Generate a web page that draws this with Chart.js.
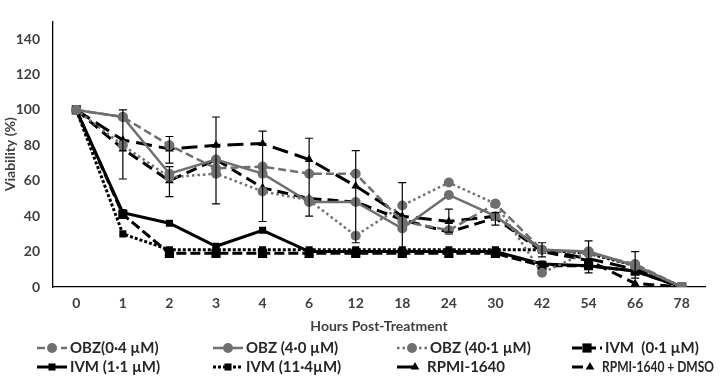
<!DOCTYPE html>
<html>
<head>
<meta charset="utf-8">
<script src="https://cdn.jsdelivr.net/npm/chart.js@4.4.1/dist/chart.umd.min.js"></script>
<style>
html, body { margin: 0; padding: 0; background: #fff; }
#wrap { width: 725px; height: 377px; }
</style>
</head>
<body>
<div id="wrap"><canvas id="mychart"></canvas></div>
<script>
// x categories (hours post-treatment)
var hours = ['0', '1', '2', '3', '4', '6', '12', '18', '24', '30', '42', '54', '66', '78'];

// viability (%) per series
var obz04  = [100, 96, 80, 67, 68, 64, 64, 37, 32, 47, 21, 19, 13, 0];
var obz40  = [100, 96, 64, 72, 64, 48, 48, 33, 52, 40, 21, 20, 12, 0];
var obz401 = [100, 80, 62, 64, 54, 49, 29, 46, 59, 47, 8, 20, 12, 0];
var ivm01  = [100, 41, 19, 19, 19, 19, 19, 19, 19, 19, 12, 12, 9, 0];
var ivm11  = [100, 42, 36, 23, 32, 20, 20, 20, 20, 20, 13, 12, 9, 0];
var ivm114 = [100, 30, 21, 21, 21, 21, 21, 21, 21, 21, 21, 19, 12, 0];
var rpmi   = [100, 83, 78, 80, 81, 72, 57, 40, 37, 40, 21, 16, 10, 0];
var dmso   = [100, 78, 60, 72, 56, 50, 48, 38, 31, 39, 20, 15, 2, 0];

// error bars: category index, low, high
var errCat  = [1, 2, 2, 3, 4, 5, 6, 7, 8, 9, 10, 11, 12];
var errLow  = [61, 70, 51, 47, 37, 40, 25, 20, 31, 35, 17, 8, 5];
var errHigh = [100, 85, 68, 96, 88, 84, 77, 59, 44, 42, 25, 26, 20];

var yTicks = [0, 20, 40, 60, 80, 100, 120, 140];

var GRAY = '#6f6f6f';
var BLACK = '#000000';
var TXT = '#404040';
var FONT = 'Lato, "Open Sans", sans-serif';

Chart.defaults.font.family = FONT;
Chart.defaults.font.weight = 'bold';
Chart.defaults.color = TXT;

function mk(label, data, color, dash, style, radius, width) {
  return {
    label: label,
    data: data,
    borderColor: color,
    backgroundColor: color,
    borderDash: dash,
    borderWidth: width,
    pointStyle: style,
    pointRadius: radius,
    pointBorderWidth: 0,
    pointBackgroundColor: color,
    tension: 0,
    fill: false
  };
}

const datasets = [
  mk('OBZ(0·4 µM)', obz04, GRAY, [8, 4], 'circle', 5, 2.5),
  mk('OBZ (4·0 µM)', obz40, GRAY, [], 'circle', 5, 2.5),
  mk('OBZ (40·1 µM)', obz401, GRAY, [2.5, 3], 'circle', 5, 2.5),
  mk('IVM  (0·1 µM)', ivm01, BLACK, [10, 4], 'rect', 6.5, 3),
  mk('IVM (1·1 µM)', ivm11, BLACK, [], 'rect', 5, 3),
  mk('IVM (11·4µM)', ivm114, BLACK, [3, 2], 'rect', 5, 3),
  mk('RPMI-1640', rpmi, BLACK, [16, 7], 'triangle', 5, 3),
  mk('RPMI-1640 + DMSO', dmso, BLACK, [11, 6], 'triangle', 5, 3)
];

// error bars drawn through the scales
const errorBars = {
  id: 'errorBars',
  afterDatasetsDraw(chart) {
    const ctx = chart.ctx;
    const xs = chart.scales.x, ys = chart.scales.y;
    ctx.save();
    ctx.strokeStyle = '#000';
    ctx.lineWidth = 1.2;
    for (var i = 0; i < errCat.length; i++) {
      var x = xs.getPixelForValue(errCat[i]);
      var y1 = ys.getPixelForValue(errLow[i]);
      var y2 = ys.getPixelForValue(errHigh[i]);
      ctx.beginPath();
      ctx.moveTo(x, y1); ctx.lineTo(x, y2);
      ctx.moveTo(x - 4, y1); ctx.lineTo(x + 4, y1);
      ctx.moveTo(x - 4, y2); ctx.lineTo(x + 4, y2);
      ctx.stroke();
    }
    ctx.restore();
  }
};

// 4-column legend under the axis title
const gridLegend = {
  id: 'gridLegend',
  afterDraw(chart) {
    const ctx = chart.ctx;
    const colX = [37, 213, 397, 572];
    const rowY = [348, 367];
    ctx.save();
    chart.data.datasets.forEach(function (ds, i) {
      var x = colX[i % 4];
      var y = rowY[Math.floor(i / 4)];
      var tri = ds.pointStyle === 'triangle';
      var len = tri ? 20 : 30;
      ctx.strokeStyle = ds.borderColor;
      ctx.lineWidth = ds.borderWidth;
      ctx.setLineDash(ds.borderDash);
      ctx.beginPath();
      ctx.moveTo(x, y); ctx.lineTo(x + len, y);
      ctx.stroke();
      ctx.setLineDash([]);
      ctx.fillStyle = ds.borderColor;
      var px = tri ? x + len - 2 : x + len / 2;
      Chart.helpers.drawPoint(ctx, { pointStyle: ds.pointStyle, radius: ds.pointRadius, rotation: 0, borderWidth: 0 }, px, y);
      ctx.fillStyle = '#262626';
      ctx.font = 'bold 15px ' + FONT;
      ctx.textBaseline = 'middle';
      ctx.fillText(ds.label, x + len + (tri ? 10 : 3), y, 112);
    });
    ctx.restore();
  }
};

const config = {
  type: 'line',
  data: { labels: hours, datasets: datasets },
  plugins: [errorBars, gridLegend],
  options: {
    responsive: true,
    maintainAspectRatio: false,
    animation: false,
    layout: { padding: { left: 0, right: 20, top: 2, bottom: 38 } },
    plugins: { legend: { display: false }, tooltip: { enabled: false } },
    scales: {
      x: {
        offset: true,
        grid: { display: false, drawTicks: false },
        border: { display: true, color: '#000', width: 1.3 },
        ticks: { color: TXT, padding: 8, font: { size: 14, weight: 'bold' } },
        title: { display: true, text: 'Hours Post-Treatment', color: TXT, font: { size: 14, weight: 'bold' }, padding: { top: 4, bottom: 4 } },
        afterFit: function (scale) { scale.height = 377 - 38 - 287; }
      },
      y: {
        min: 0,
        max: 150,
        grid: { display: false, drawTicks: false },
        border: { display: true, color: '#000', width: 1.3 },
        afterBuildTicks: function (scale) {
          scale.ticks = yTicks.map(function (v) { return { value: v }; });
        },
        ticks: { color: TXT, padding: 13, font: { size: 14, weight: 'bold' } },
        title: { display: true, text: 'Viability (%)', color: TXT, font: { size: 14, weight: 'bold' }, padding: { top: 2, bottom: 0 } },
        afterFit: function (scale) { scale.width = 53; }
      }
    }
  }
};

const myChart = new Chart(document.getElementById('mychart').getContext('2d'), config);
</script>
</body>
</html>
